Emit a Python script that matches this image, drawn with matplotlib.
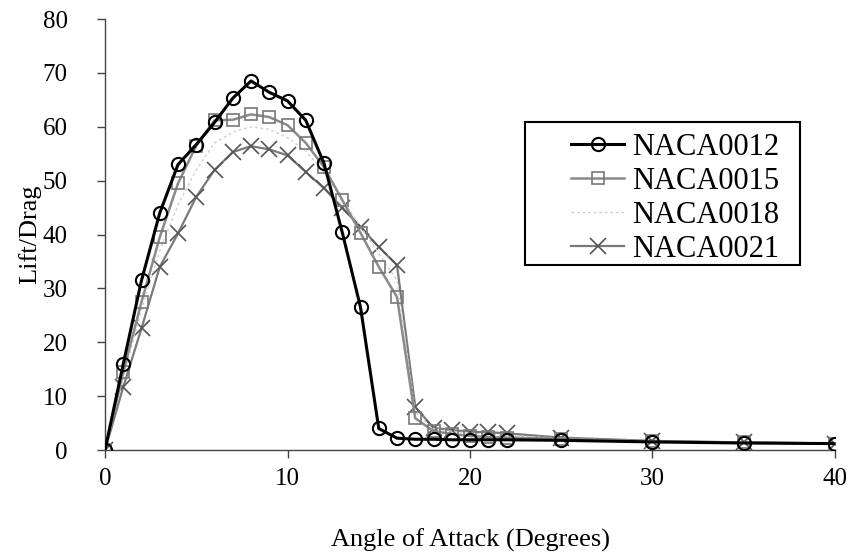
import matplotlib
matplotlib.use("Agg")
import matplotlib.pyplot as plt
from matplotlib.patches import Rectangle

plt.rcParams['font.family'] = ['Liberation Serif', 'DejaVu Serif']

angles = [0, 1, 2, 3, 4, 5, 6, 7, 8, 9, 10, 11, 12, 13, 14, 15, 16, 17, 18, 19, 20, 21, 22,
          25, 30, 35, 40]

naca0012 = [0, 16, 31.5, 44, 53, 56.7, 60.8, 65.3, 68.5, 66.4, 64.8, 61.2, 53.2, 40.4, 26.5,
            4, 2.2, 2, 2, 1.9, 1.9, 1.9, 1.9, 1.8, 1.5, 1.3, 1.2]
naca0015 = [0, 14.5, 27.5, 39.5, 49.5, 56.5, 61.2, 61.3, 62.3, 61.8, 60.3, 57, 52.5, 46.4, 40.3,
            34, 28.4, 5.9, 3.5, 3, 2.6, 2.4, 2.3, 2.1, 1.6, 1.4, 1.2]
naca0018 = [0, 13.5, 26, 37, 45.5, 52, 57, 59, 60, 59.5, 58, 55.5, 51.5, 46.5, 41.5,
            36.5, 31.5, 7, 4, 3.5, 3.1, 2.9, 2.7, 2.2, 1.6, 1.4, 1.2]
naca0021 = [0, 11.7, 22.6, 34, 40.2, 47, 52, 55.3, 56.4, 55.8, 54.7, 51.6, 48.6, 45, 41.4,
            37.7, 34.3, 8, 4.1, 3.7, 3.4, 3.3, 3.1, 2.3, 1.7, 1.4, 1.2]

fig = plt.figure(figsize=(8.49, 5.56), dpi=100)
ax = fig.add_axes([0.1237, 0.1906, 0.8598, 0.7752])

ax.plot(angles, naca0021, color='#7a7a7a', lw=1.6, marker='x', ms=11, mew=1.2,
        mec='#555555', label='NACA0021', zorder=2)
ax.plot(angles, naca0018, color='#d0d0d0', lw=1.0, ls=(0, (2, 2)), label='NACA0018', zorder=2)
ax.plot(angles, naca0015, color='#8a8a8a', lw=1.8, marker='s', ms=9, mew=1.2,
        mfc='none', mec='#777777', label='NACA0015', zorder=3)
ax.plot(angles, naca0012, color='black', lw=2.2, marker='o', ms=9.5, mew=1.5,
        mfc='none', mec='black', label='NACA0012', zorder=4)

ax.set_xlim(0, 40)
ax.set_ylim(0, 80)
ax.set_xticks([0, 10, 20, 30, 40])
ax.set_yticks(range(0, 81, 10))
ax.tick_params(direction='out', length=6, width=1, color='#444444', labelsize=18)
ax.tick_params(axis='y', pad=21)
ax.tick_params(axis='x', pad=7)
for s in ['top', 'right']:
    ax.spines[s].set_visible(False)
for s in ['left', 'bottom']:
    ax.spines[s].set_color('#444444')
    ax.spines[s].set_linewidth(1)

ax.set_xlabel('Angle of Attack (Degrees)', fontsize=19, labelpad=28)
ax.set_ylabel('Lift/Drag', fontsize=19, labelpad=1)

# legend entries sit toward the right of a wider box
handles, labels = ax.get_legend_handles_labels()
order = [3, 2, 1, 0]
leg = ax.legend([handles[i] for i in order], [labels[i] for i in order],
                loc='upper left', bbox_to_anchor=(571 / 849, 1 - 133 / 556),
                bbox_transform=fig.transFigure, borderaxespad=0, borderpad=0,
                fontsize=22, frameon=False, handlelength=1.75,
                handletextpad=0.26, labelspacing=0.16)
fig.patches.append(Rectangle((525 / 849, 1 - 265 / 556), 275 / 849, 143 / 556,
                             transform=fig.transFigure, fill=False,
                             edgecolor='black', lw=1.5, zorder=5))

fig.savefig('out.png', dpi=100)
